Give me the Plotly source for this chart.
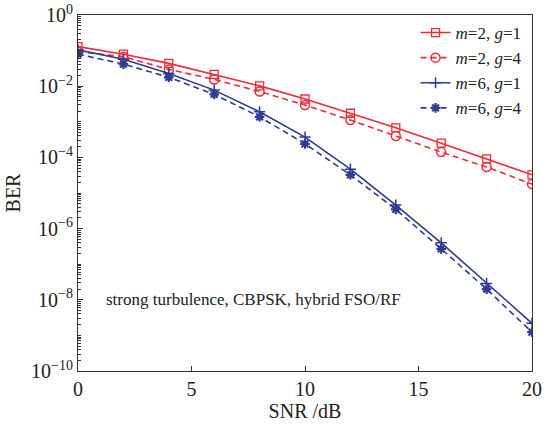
import plotly.graph_objects as go

snr = [0, 2, 4, 6, 8, 10, 12, 14, 16, 18, 20]
ber_m2_g1 = [0.129, 0.0794, 0.0437, 0.0214, 0.0102, 0.00437, 0.00174, 6.76e-4, 2.51e-4, 9.12e-5, 3.24e-5]
ber_m2_g4 = [0.0933, 0.0676, 0.0295, 0.0155, 0.00708, 0.00295, 0.00112, 3.98e-4, 1.41e-4, 5.37e-5, 1.78e-5]
ber_m6_g1 = [0.105, 0.0575, 0.0229, 0.00776, 0.00191, 3.72e-4, 4.68e-5, 4.57e-6, 3.98e-7, 2.88e-8, 2.19e-9]
ber_m6_g4 = [0.0794, 0.0417, 0.0178, 0.00589, 0.00138, 2.40e-4, 3.24e-5, 3.47e-6, 2.69e-7, 2.0e-8, 1.23e-9]

names = ["<i>m</i>=2, <i>g</i>=1", "<i>m</i>=2, <i>g</i>=4", "<i>m</i>=6, <i>g</i>=1", "<i>m</i>=6, <i>g</i>=4"]
ytick_vals = [1e0, 1e-2, 1e-4, 1e-6, 1e-8, 1e-10]
ytick_text = ["10<sup>0</sup>", "10<sup>−2</sup>", "10<sup>−4</sup>", "10<sup>−6</sup>", "10<sup>−8</sup>", "10<sup>−10</sup>"]
xtick_vals = [0, 5, 10, 15, 20]

red = "#ee2b36"
blue = "#2e3a94"
font = "Liberation Serif"
dash = "6px,4px"

fig = go.Figure()
fig.add_trace(go.Scatter(x=snr, y=ber_m2_g1, name=names[0], mode="lines+markers",
                         line=dict(color=red, width=1.6),
                         marker=dict(symbol="square-open", size=8, color=red, line=dict(width=1.3))))
fig.add_trace(go.Scatter(x=snr, y=ber_m2_g4, name=names[1], mode="lines+markers",
                         line=dict(color=red, width=1.6, dash=dash),
                         marker=dict(symbol="circle-open", size=9, color=red, line=dict(width=1.5))))
fig.add_trace(go.Scatter(x=snr, y=ber_m6_g1, name=names[2], mode="lines+markers",
                         line=dict(color=blue, width=1.6),
                         marker=dict(symbol="cross-thin-open", size=8, color=blue, line=dict(width=1.5, color=blue))))
fig.add_trace(go.Scatter(x=snr, y=ber_m6_g4, name=names[3], mode="lines+markers",
                         line=dict(color=blue, width=1.6, dash=dash),
                         marker=dict(symbol="asterisk-open", size=8, color=blue, line=dict(width=2.2, color=blue))))

fig.add_annotation(x=0.057, y=0.2, xref="paper", yref="paper", xanchor="left", yanchor="middle",
                   text="strong turbulence, CBPSK, hybrid FSO/RF", showarrow=False,
                   font=dict(family=font, size=17, color="#222"))

fig.update_layout(
    width=544, height=424,
    margin=dict(l=78, r=12, t=15, b=53),
    paper_bgcolor="white", plot_bgcolor="white",
    font=dict(family=font, size=20, color="#222"),
    showlegend=True,
    legend=dict(x=0.988, y=1, xanchor="right", yanchor="top", bgcolor="rgba(255,255,255,0)",
                font=dict(family=font, size=17), tracegroupgap=0, borderwidth=0),
    xaxis=dict(range=[0, 20], tickvals=xtick_vals, ticks="inside", ticklen=5, tickcolor="#333",
               showgrid=False, zeroline=False, showline=True, linecolor="#333", linewidth=1.2,
               mirror=True, automargin=False,
               title=dict(text="SNR /dB", standoff=2, font=dict(family=font, size=20)),
               tickfont=dict(family=font, size=20)),
    yaxis=dict(type="log", range=[-10, 0], tickvals=ytick_vals, ticktext=ytick_text,
               ticks="inside", ticklen=5, tickcolor="#333",
               minor=dict(ticks="inside", ticklen=3, dtick="D1", tickcolor="#333", showgrid=False),
               showgrid=False, zeroline=False, showline=True, linecolor="#333", linewidth=1.2,
               mirror=True, automargin=False,
               title=dict(text="BER", standoff=4, font=dict(family=font, size=20)),
               tickfont=dict(family=font, size=20)),
)

fig.write_html("out.html", config={"displayModeBar": False},
               post_script="document.body.style.margin='0px';")
